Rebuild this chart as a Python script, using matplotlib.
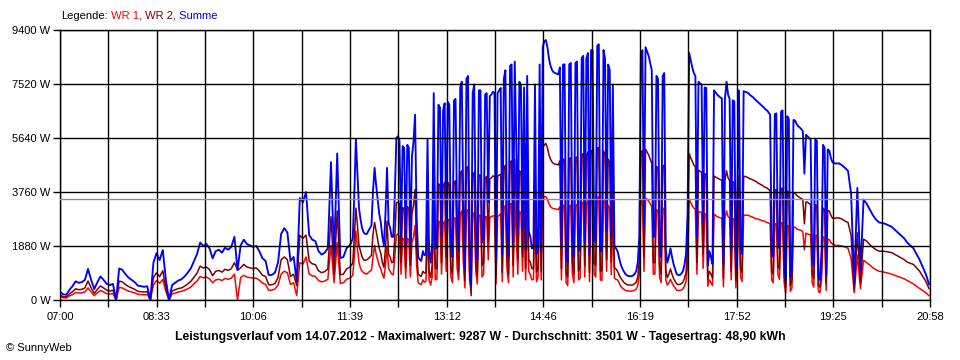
import numpy as np
import matplotlib
matplotlib.use("Agg")
import matplotlib.pyplot as plt

# Leistung je Wechselrichter in W
# Raster: 07:00-11:36 alle 3 min, 11:39-19:24 alle 1,5 min, danach alle 3 min
minuten = np.concatenate([np.arange(0, 279, 3),
                          np.arange(279, 744.1, 1.5),
                          np.arange(747, 838, 3)])

wr1 = [110, 80, 70, 140, 190, 260, 240, 250, 280, 420,
       280, 150, 250, 330, 280, 220, 210, 220, 0, 440,
       420, 360, 310, 280, 250, 200, 190, 180, 190, 0,
       520, 680, 580, 720, 290, 0, 210, 240, 280, 300,
       340, 390, 450, 560, 660, 820, 770, 800, 740, 600,
       700, 720, 680, 750, 720, 760, 900, 0, 780, 860,
       800, 780, 760, 760, 690, 590, 540, 340, 340, 380,
       520, 900, 1000, 950, 540, 600, 160, 1300, 1250, 1500,
       900, 840, 820, 680, 630, 660, 720, 1900, 600, 2000,
       580, 600, 720,
       # ab 11:39
       760, 800, 860, 1500, 2400, 1800, 1300, 1100, 1000, 950,
       920, 900, 960, 1000, 1040, 1500, 1900, 1600, 1400, 1200,
       1080, 900, 760, 1200, 1850, 1100, 1000, 900, 880, 1500,
       2250, 2300, 2200, 900, 2150, 2100, 760, 2150, 2100, 800,
       2000, 2200, 2600, 1200, 600, 560, 540, 700, 620, 650,
       2300, 700, 520, 800, 2900, 700, 720, 2750, 2700, 900,
       2650, 2750, 1000, 2800, 2800, 800, 600, 2850, 2850, 1100,
       700, 3000, 3100, 1300, 420, 3100, 3150, 700, 400, 2900,
       3050, 1000, 560, 2950, 2950, 800, 900, 2900, 2900, 1400,
       2880, 2900, 2930, 2920, 560, 2900, 2950, 3000, 640, 3150,
       3300, 1100, 600, 3350, 3350, 800, 3400, 2200, 900, 3100,
       3000, 1000, 2980, 700, 3150, 1000, 880, 700, 720, 3000,
       640, 800, 3300, 700, 3500, 3600, 3600, 3500, 3350, 3250,
       3200, 3180, 3170, 3160, 3150, 3250, 700, 3300, 3300, 600,
       500, 3280, 3300, 900, 600, 3300, 3320, 700, 760, 3380,
       3400, 800, 3350, 3450, 640, 3500, 3500, 900, 800, 3550,
       3600, 700, 680, 3500, 3350, 1000, 3300, 3200, 880, 3000,
       760, 720, 700, 600, 480, 420, 380, 340, 320, 310,
       310, 310, 320, 340, 380, 500, 880, 3450, 3500, 1000,
       3550, 3500, 3450, 3350, 3250, 900, 900, 3150, 3100, 800,
       600, 3150, 3200, 700, 520, 600, 720, 600, 500, 420,
       340, 330, 330, 350, 380, 480, 640, 1200, 3500, 3400,
       3280, 3200, 3160, 900, 3080, 3060, 3050, 1100, 3000, 3000,
       480, 700, 600, 500, 2980, 2950, 2900, 2880, 2860, 2850,
       460, 2850, 3100, 2900, 2850, 700, 2830, 2820, 420, 1500,
       2980, 800, 640, 2960, 2950, 2950, 2950, 2920, 2900, 2880,
       2850, 2830, 2820, 2800, 2780, 2760, 2750, 2720, 2700, 2680,
       2650, 700, 600, 2650, 2650, 900, 720, 2680, 2700, 600,
       250, 2600, 2550, 300, 420, 2540, 2530, 2480, 2450, 2440,
       2420, 2380, 1750, 2330, 2300, 2280, 2270, 600, 450, 2260,
       2250, 300, 250, 700, 2200, 2150, 330, 2120, 2100, 2000,
       1950,
       # ab 19:27
       1900, 1900, 1880, 1850, 1800, 1450, 250, 1560, 400, 1380,
       1300, 1220, 1120, 1050, 1000, 980, 960, 930, 900, 860,
       820, 780, 740, 680, 620, 560, 480, 400, 330, 250, 150]

wr2 = [170, 120, 110, 210, 290, 390, 360, 370, 420, 660,
       420, 230, 370, 490, 420, 340, 310, 340, 0, 660,
       630, 540, 470, 420, 370, 300, 290, 280, 290, 0,
       780, 950, 810, 1020, 410, 0, 310, 360, 400, 420,
       480, 560, 650, 790, 940, 1180, 1110, 1150, 1060, 850,
       1000, 1030, 970, 1070, 1030, 1090, 1300, 1040, 1120, 1240,
       1150, 1120, 1090, 1120, 1010, 860, 820, 530, 530, 570,
       780, 1400, 1500, 1400, 820, 900, 500, 2250, 2150, 2260,
       1360, 1260, 1230, 1020, 950, 990, 1080, 2900, 900, 3100,
       880, 900, 1080,
       # ab 11:39
       1140, 1200, 1290, 2200, 3200, 2600, 1900, 1700, 1500, 1400,
       1380, 1400, 1440, 1500, 1560, 2300, 2700, 2400, 2100, 1800,
       1620, 1300, 1140, 1800, 2750, 1600, 1500, 1300, 1320, 2200,
       3390, 3400, 3350, 1300, 3210, 3200, 1140, 3250, 3200, 1200,
       3000, 3300, 3850, 1700, 900, 850, 820, 1000, 940, 950,
       3300, 1000, 780, 1200, 4300, 1100, 1080, 4050, 4000, 1300,
       3950, 4100, 1500, 4100, 4000, 1100, 900, 4100, 4150, 1600,
       1000, 4400, 4500, 1900, 680, 4600, 4650, 1000, 150, 4300,
       4450, 1400, 840, 4350, 4350, 1200, 1300, 4250, 4300, 2000,
       4220, 4250, 4320, 4300, 840, 4300, 4350, 4380, 960, 4550,
       4700, 1500, 900, 4800, 4850, 1200, 4900, 3300, 1400, 4500,
       4450, 1500, 4420, 1100, 4650, 1400, 1320, 1100, 1080, 4500,
       960, 1100, 4900, 1000, 5300, 5400, 5450, 5300, 5050, 4900,
       4800, 4750, 4730, 4720, 4700, 4850, 1100, 4900, 4900, 900,
       800, 4920, 4950, 1300, 900, 4950, 4980, 1000, 1140, 5050,
       5100, 1200, 5050, 5150, 960, 5200, 5200, 1300, 1200, 5300,
       5300, 1000, 1020, 5200, 5050, 1400, 4900, 4800, 1320, 4500,
       1140, 1080, 1000, 880, 770, 690, 620, 570, 540, 520,
       520, 520, 530, 570, 620, 800, 1320, 5150, 5200, 1500,
       5250, 5150, 5050, 4900, 4750, 1300, 1300, 4650, 4600, 1200,
       900, 4650, 4700, 1050, 780, 900, 1080, 900, 750, 650,
       560, 540, 540, 570, 620, 750, 960, 1800, 5100, 4950,
       4820, 4700, 4640, 1300, 4520, 4480, 4450, 1600, 4400, 4380,
       720, 1000, 900, 750, 4320, 4280, 4250, 4220, 4190, 4170,
       740, 4160, 4500, 4250, 4150, 1000, 4120, 4100, 680, 2200,
       4320, 1100, 960, 4310, 4300, 4280, 4250, 4220, 4200, 4180,
       4150, 4120, 4080, 4050, 4020, 3990, 3950, 3920, 3900, 3850,
       3800, 1000, 900, 3820, 3850, 1200, 1080, 3870, 3900, 900,
       450, 3800, 3750, 500, 680, 3730, 3720, 3650, 3600, 3570,
       3530, 3500, 2650, 3420, 3400, 3360, 3330, 900, 750, 3320,
       3300, 500, 450, 1000, 3200, 3150, 570, 3120, 3100, 2950,
       2850,
       # ab 19:27
       2850, 2860, 2820, 2750, 2700, 2250, 350, 2340, 600, 2120,
       2050, 1930, 1830, 1750, 1700, 1700, 1690, 1670, 1650, 1590,
       1530, 1470, 1410, 1320, 1280, 1240, 1120, 1000, 820, 650, 400]

summe = np.array(wr1) + np.array(wr2)

x_labels = ["07:00", "08:33", "10:06", "11:39", "13:12",
            "14:46", "16:19", "17:52", "19:25", "20:58"]
y_ticks = [0, 1880, 3760, 5640, 7520, 9400]
durchschnitt = 3501
dauer = 838  # 07:00 bis 20:58

titel = ("Leistungsverlauf vom 14.07.2012 - Maximalwert: 9287 W - "
         "Durchschnitt: 3501 W - Tagesertrag: 48,90 kWh")

plt.rcParams['font.family'] = ['Liberation Sans', 'DejaVu Sans']

fig = plt.figure(figsize=(9.6, 3.6), dpi=100)
ax = fig.add_axes([60 / 960, 60 / 360, 870 / 960, 270 / 360])

ax.plot(minuten, wr1, color="#ff0000", lw=1.1)
ax.plot(minuten, wr2, color="#800000", lw=1.1)
ax.plot(minuten, summe, color="#0000ff", lw=1.35)
ax.axhline(durchschnitt, color="#909090", lw=1.0, zorder=3)

ax.set_xlim(0, dauer)
ax.set_ylim(0, 9400)
ax.set_xticks(np.linspace(0, dauer, len(x_labels)))
ax.set_xticklabels(x_labels)
ax.set_xticks(np.linspace(0, dauer, 2 * len(x_labels) - 1), minor=True)
ax.set_yticks(y_ticks)
ax.set_yticklabels([f"{v} W" for v in y_ticks])

ax.set_axisbelow(False)
ax.grid(True, which="both", color="black", lw=1.0)
ax.tick_params(which="both", direction="out", length=5, width=1.0,
               color="black", labelsize=8)
ax.tick_params(axis="x", pad=3.5)
ax.tick_params(axis="y", pad=2)
for s in ax.spines.values():
    s.set_color("black")
    s.set_linewidth(1.0)

fig.text(0.5, 1 - 337 / 360, titel, ha="center", va="center",
         fontsize=8.8, fontweight="bold")
fig.text(6 / 960, 1 - 348 / 360, "\u00a9 SunnyWeb", ha="left", va="center",
         fontsize=8)

# Legende mit farbigen Teilen
fig.canvas.draw()
r = fig.canvas.get_renderer()
x = 61
for teil, farbe in [("Legende:", "black"), (" WR 1,", "#ff0000"),
                    (" WR 2,", "#800000"), (" Summe", "#0000ff")]:
    t = fig.text(x / 960, 1 - 16 / 360, teil, color=farbe, ha="left",
                 va="center", fontsize=8)
    x += t.get_window_extent(r).width

fig.savefig("out.png", dpi=100)
